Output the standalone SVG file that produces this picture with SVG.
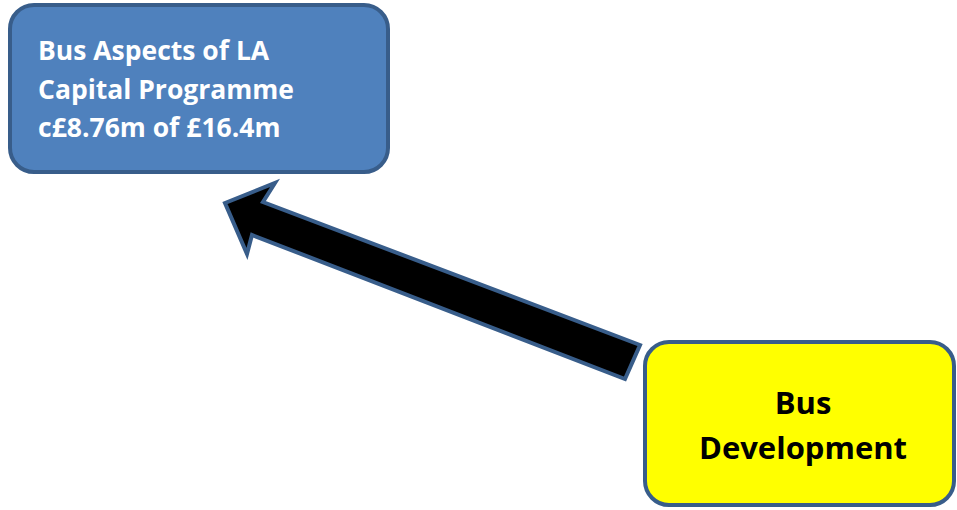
<svg xmlns="http://www.w3.org/2000/svg" width="957" height="510" viewBox="0 0 957 510">
<style>
.box{stroke:#385D8A;stroke-width:4}
.t{font-family:"Open Sans","Liberation Sans",sans-serif;font-weight:bold}
</style>
<rect width="957" height="510" fill="#FFFFFF"/>
<g id="connectors">
<polygon points="225,203 275,183 263,202 640,345 625,379 252,235 247,254" fill="#000000" stroke="#385D8A" stroke-width="4" stroke-linejoin="miter"/>
</g>
<g id="node-capital">
<rect class="box" x="10" y="5" width="378" height="167" rx="24" fill="#4F81BD"/>
<text class="t" fill="#FFFFFF" font-size="26.5" x="38" y="60">Bus Aspects of LA</text>
<text class="t" fill="#FFFFFF" font-size="26.5" x="38" y="99">Capital Programme</text>
<text class="t" fill="#FFFFFF" font-size="26.5" x="38" y="137">c£8.76m of £16.4m</text>
</g>
<g id="node-bus">
<rect class="box" x="645" y="342" width="309" height="163" rx="24" fill="#FFFF00"/>
<text class="t" fill="#000000" font-size="31" x="803" y="414" text-anchor="middle">Bus</text>
<text class="t" fill="#000000" font-size="31" x="803" y="459" text-anchor="middle">Development</text>
</g>
</svg>
